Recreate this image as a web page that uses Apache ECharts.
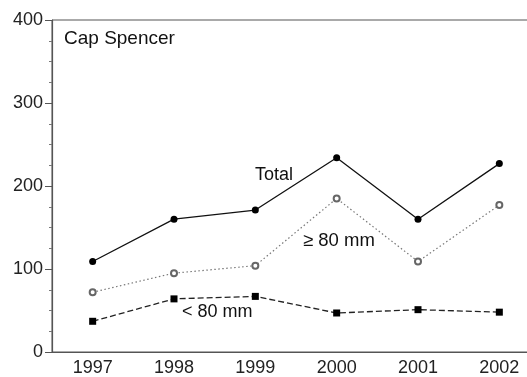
<!DOCTYPE html>
<html>
<head>
<meta charset="utf-8">
<script src="https://cdn.jsdelivr.net/npm/echarts@6/dist/echarts.min.js"></script>
<style>html,body{margin:0;padding:0;background:#fff}#c{width:527px;height:377px}</style>
</head>
<body>
<div id="c"></div>
<script>
var years = ['1997','1998','1999','2000','2001','2002'];
var total = [109, 160, 171, 234, 160, 227];
var ge80 = [72, 95, 104, 185, 109, 177];
var lt80 = [37, 64, 67, 47, 51, 48];
var yTicks = [0, 100, 200, 300, 400];

var FONT = '"Liberation Sans", Arial, sans-serif';
var chart = echarts.init(document.getElementById('c'));
chart.setOption({
  animation: false,
  backgroundColor: '#fff',
  grid: { left: 52, top: 20, height: 332, width: 488, outerBoundsMode: 'none', containLabel: false,
          show: true, borderColor: '#555', borderWidth: 1 },
  xAxis: {
    type: 'category', data: years, boundaryGap: true,
    axisLine: { lineStyle: { color: '#555', width: 1.2 } },
    axisTick: { alignWithLabel: true, length: 5, lineStyle: { color: '#555' } },
    axisLabel: { color: '#222', fontFamily: FONT, fontSize: 18, margin: 7 }
  },
  yAxis: {
    type: 'value', min: yTicks[0], max: yTicks[yTicks.length - 1], interval: 100,
    axisLine: { show: true, lineStyle: { color: '#555', width: 1.2 } },
    axisTick: { show: true, length: 7, lineStyle: { color: '#555' } },
    minorTick: { show: true, splitNumber: 4, length: 3, lineStyle: { color: '#777' } },
    splitLine: { show: false },
    axisLabel: { color: '#222', fontFamily: FONT, fontSize: 18, margin: 9 }
  },
  series: [
    { name: 'Total', type: 'line', data: total, symbol: 'circle', symbolSize: 7,
      lineStyle: { color: '#111', width: 1.3 }, itemStyle: { color: '#000' } },
    { name: '>=80', type: 'line', data: ge80, symbol: 'emptyCircle', symbolSize: 6,
      lineStyle: { color: '#777', width: 1.2, type: [1.5, 2.5] }, itemStyle: { color: '#666', borderColor: '#666', borderWidth: 1.2 } },
    { name: '<80', type: 'line', data: lt80, symbol: 'rect', symbolSize: 7,
      lineStyle: { color: '#222', width: 1.3, type: [6, 3] }, itemStyle: { color: '#000' } }
  ],
  graphic: [
    { type: 'text', left: 64, top: 29, style: { text: 'Cap Spencer', font: '19px ' + FONT, fill: '#111' } },
    { type: 'text', left: 255, top: 166, style: { text: 'Total', font: '18px ' + FONT, fill: '#111' } },
    { type: 'text', left: 303, top: 231, style: { text: '\u2265 80 mm', font: '18.5px ' + FONT, fill: '#111' } },
    { type: 'text', left: 182, top: 303, style: { text: '< 80 mm', font: '18px ' + FONT, fill: '#111' } }
  ]
});
</script>
</body>
</html>
